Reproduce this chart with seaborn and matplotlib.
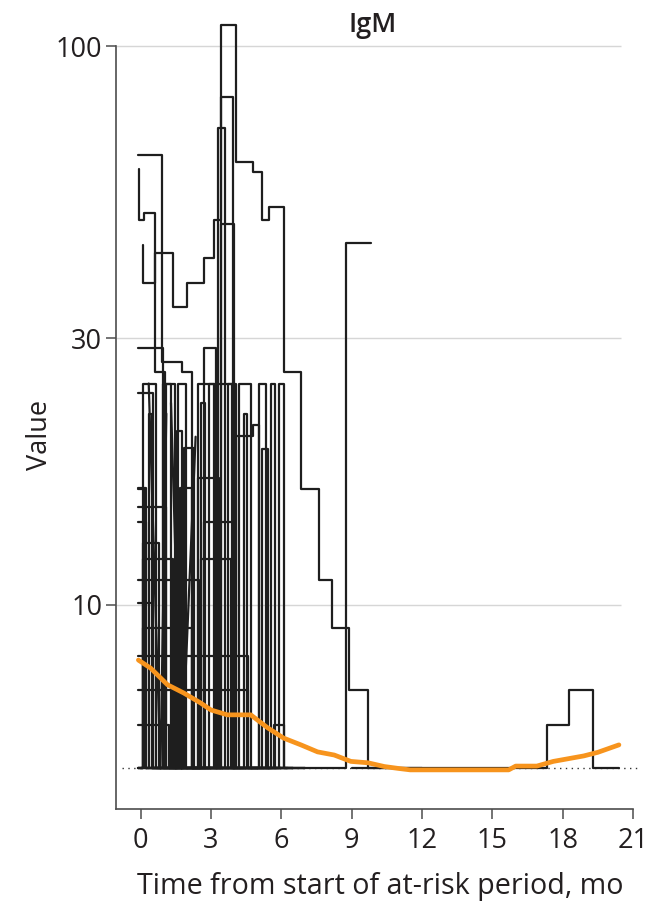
import matplotlib
matplotlib.use("Agg")
import matplotlib.pyplot as plt
from matplotlib.ticker import NullLocator, FixedLocator, FixedFormatter
import pandas as pd
import seaborn as sns

# ---------------- data ----------------
FLOOR = 5.1  # lower limit value shown by the dotted reference line

# individual trajectories: step data (value holds from t[i] to t[i+1])
p01_t = [0.1, 0.1, 0.6, 1.37, 1.97, 2.69, 3.13, 3.45, 4.06, 4.8, 5.2, 5.5, 6.1, 6.84, 7.6, 8.15, 8.9, 9.7, 12.0]
p01_v = [44.1, 37.7, 42.6, 34.1, 37.7, 41.8, 48.8, 109, 62, 59.5, 48.8, 51.5, 26.1, 16.1, 11.1, 9.1, 7.05, FLOOR, FLOOR]
p02_t = [-0.1, 0.93, 1.78, 2.2, 4.5]
p02_v = [63.8, 27.2, 26.1, FLOOR, FLOOR]
p03_t = [-0.05, -0.05, 0.13, 0.6, 1.05, 3.0]
p03_v = [60.3, 48.8, 50.3, 26.1, FLOOR, FLOOR]
p04_t = [2.0, 3.45, 3.93, 6.0]
p04_v = [FLOOR, 81, FLOOR, FLOOR]
p05_t = [1.5, 3.3, 3.6, 5.5]
p05_v = [FLOOR, 71.3, FLOOR, FLOOR]
p06_t = [2.5, 3.45, 4.0, 5.8]
p06_v = [FLOOR, 48.0, FLOOR, FLOOR]
p07_t = [4.0, 8.76, 9.83]
p07_v = [FLOOR, 44.4, 44.4]
p08_t = [9.0, 17.35, 18.25, 19.3, 20.4]
p08_v = [FLOOR, 6.1, 7.05, FLOOR, FLOOR]
p09_t = [-0.1, 0.1, 0.64, 0.94, 1.28, 1.62, 1.92, 2.44, 4.06, 4.18, 4.7, 5.04, 5.34, 5.9, 6.1, 7.0]
p09_v = [FLOOR, 24.9, FLOOR, 24.9, FLOOR, 24.9, FLOOR, 24.9, FLOOR, 24.9, FLOOR, 24.9, FLOOR, 24.9, FLOOR, FLOOR]
p10_t = [-0.1, 0.55, 2.0]
p10_v = [23.9, FLOOR, FLOOR]
p11_t = [1.0, 4.06, 4.8, 5.04, 6.2]
p11_v = [FLOOR, 20.1, 21.0, FLOOR, FLOOR]
p12_t = [0.5, 2.44, 3.33, 5.0]
p12_v = [FLOOR, 16.9, FLOOR, FLOOR]
p13_t = [0.3, 1.84, 2.26, 4.0]
p13_v = [FLOOR, 19.1, FLOOR, FLOOR]
p14_t = [-0.1, 0.25, 1.7, 2.2, 3.5]
p14_v = [16.2, FLOOR, 16.2, FLOOR, FLOOR]
p15_t = [-0.1, 1.07, 3.0]
p15_v = [15.0, FLOOR, FLOOR]
p16_t = [-0.1, 0.25, 2.69, 3.97, 5.5]
p16_v = [14.1, FLOOR, 14.1, FLOOR, FLOOR]
p17_t = [-0.1, 0.1, 0.77, 2.5]
p17_v = [FLOOR, 12.9, FLOOR, FLOOR]
p18_t = [-0.1, 0.1, 1.37, 2.56, 3.85, 5.0]
p18_v = [FLOOR, 12.1, FLOOR, 12.1, FLOOR, FLOOR]
p19_t = [-0.1, 2.48, 4.0]
p19_v = [11.1, FLOOR, FLOOR]
p20_t = [-0.1, 0.55, 1.5]
p20_v = [10.1, FLOOR, FLOOR]
p21_t = [-0.1, 0.1, 2.2, 3.5]
p21_v = [FLOOR, 9.1, FLOOR, FLOOR]
p22_t = [-0.1, 4.6, 6.0]
p22_v = [8.1, FLOOR, FLOOR]
p23_t = [-0.1, 4.6, 6.5]
p23_v = [7.05, FLOOR, FLOOR]
p24_t = [-0.1, 1.2, 5.7, 6.1, 7.0]
p24_v = [6.1, FLOOR, 6.1, FLOOR, FLOOR]
p25_t = [-0.1, 0.2, 2.0]
p25_v = [16.1, FLOOR, FLOOR]
p26_t = [-0.1, 0.94, 2.69, 3.2, 4.5]
p26_v = [28.8, FLOOR, 28.8, FLOOR, FLOOR]
p27_t = [0.0, 1.1, 1.45, 2.9, 3.15, 4.0]
p27_v = [FLOOR, 24.9, FLOOR, 24.9, FLOOR, FLOOR]
p28_t = [0.0, 0.35, 0.5, 1.55, 1.75, 3.0]
p28_v = [FLOOR, 22.0, FLOOR, 20.5, FLOOR, FLOOR]
p29_t = [3.0, 5.2, 5.45, 6.5]
p29_v = [FLOOR, 19.0, FLOOR, FLOOR]
p30_t = [2.0, 2.6, 2.75, 4.4, 4.55, 5.6]
p30_v = [FLOOR, 23.0, FLOOR, 22.0, FLOOR, FLOOR]
p31_t = [3.5, 3.75, 3.9, 5.55, 5.75, 6.3]
p31_v = [FLOOR, 24.9, FLOOR, 24.9, FLOOR, FLOOR]

# trajectories joined by straight (sloped) segments
d01_t = [0.35, 0.85, 1.1]
d01_v = [24.9, FLOOR, 22.0]
d02_t = [1.3, 1.75, 2.35]
d02_v = [23.0, FLOOR, 20.0]

# smoothed mean curve (orange)
mean_t = [-0.09, 0.43, 1.15, 1.84, 2.56, 3.0, 3.7, 4.7, 5.42, 6.1, 6.84, 7.55, 8.26, 8.97, 9.7,
          10.4, 11.0, 11.5, 13.0, 15.7, 16.0, 16.9, 17.6, 18.9, 19.5, 20.4]
mean_v = [7.97, 7.71, 7.2, 6.96, 6.68, 6.49, 6.36, 6.36, 6.03, 5.78, 5.62, 5.46, 5.39, 5.25, 5.22,
          5.14, 5.1, 5.07, 5.07, 5.07, 5.15, 5.15, 5.25, 5.37, 5.45, 5.62]

x_ticks = [0, 3, 6, 9, 12, 15, 18, 21]
y_ticks = [10, 30, 100]
y_tick_labels = ["10", "30", "100"]

# ---------------- assemble ----------------
step_series = {
    "P01": (p01_t, p01_v), "P02": (p02_t, p02_v), "P03": (p03_t, p03_v), "P04": (p04_t, p04_v),
    "P05": (p05_t, p05_v), "P06": (p06_t, p06_v), "P07": (p07_t, p07_v), "P08": (p08_t, p08_v),
    "P09": (p09_t, p09_v), "P10": (p10_t, p10_v), "P11": (p11_t, p11_v), "P12": (p12_t, p12_v),
    "P13": (p13_t, p13_v), "P14": (p14_t, p14_v), "P15": (p15_t, p15_v), "P16": (p16_t, p16_v),
    "P17": (p17_t, p17_v), "P18": (p18_t, p18_v), "P19": (p19_t, p19_v), "P20": (p20_t, p20_v),
    "P21": (p21_t, p21_v), "P22": (p22_t, p22_v), "P23": (p23_t, p23_v), "P24": (p24_t, p24_v),
    "P25": (p25_t, p25_v), "P26": (p26_t, p26_v), "P27": (p27_t, p27_v), "P28": (p28_t, p28_v),
    "P29": (p29_t, p29_v), "P30": (p30_t, p30_v), "P31": (p31_t, p31_v),
}
slope_series = {"D01": (d01_t, d01_v), "D02": (d02_t, d02_v)}


def to_frame(d):
    rows = []
    for pid, (ts, vs) in d.items():
        for t, v in zip(ts, vs):
            rows.append((pid, t, v))
    return pd.DataFrame(rows, columns=["pid", "t", "v"])


df_step = to_frame(step_series)
df_slope = to_frame(slope_series)
mean_df = pd.DataFrame({"t": mean_t, "v": mean_v})

# ---------------- style ----------------
sns.set_theme(style="white")
plt.rcParams["font.family"] = ["Open Sans", "DejaVu Sans"]
TXT = "#231f20"
SPINE = "#4d4d4d"
FS = 19.5
LINE = "#1e1e1e"

fig = plt.figure(figsize=(6.66, 9.13), dpi=100)
W, H = 666, 913
ax_l, ax_r, ax_b, ax_t = 116, 633, 809.3, 10
ax = fig.add_axes([ax_l / W, 1 - ax_b / H, (ax_r - ax_l) / W, (ax_b - ax_t) / H])
ax.set_yscale("log")

XMIN, XMAX = -1.045, 21.0
YMIN, YMAX = 4.31, 116.0

# grid lines (only across data area)
ax.hlines(y_ticks, XMIN, 20.5, colors="#d6d6d6", lw=1.0, zorder=0)
# dotted floor reference
ax.plot([-0.78, 21.2], [FLOOR, FLOOR], ls=(0, (1, 3.2)), color="#333333", lw=1.0,
        clip_on=False, zorder=1)

sns.lineplot(data=df_step, x="t", y="v", units="pid", estimator=None, sort=False,
             color=LINE, lw=1.6, drawstyle="steps-post", legend=False, ax=ax, zorder=2)
sns.lineplot(data=df_slope, x="t", y="v", units="pid", estimator=None, sort=False,
             color=LINE, lw=1.6, legend=False, ax=ax, zorder=2)
sns.lineplot(data=mean_df, x="t", y="v", estimator=None, sort=False,
             color="#F7941D", lw=3.4, legend=False, ax=ax, zorder=3)

ax.set_xlim(XMIN, XMAX)
ax.set_ylim(YMIN, YMAX)
ax.set_xticks(x_ticks)
ax.yaxis.set_major_locator(FixedLocator(y_ticks))
ax.yaxis.set_major_formatter(FixedFormatter(y_tick_labels))
ax.yaxis.set_minor_locator(NullLocator())
ax.xaxis.set_minor_locator(NullLocator())

for s in ["top", "right"]:
    ax.spines[s].set_visible(False)
for s in ["left", "bottom"]:
    ax.spines[s].set_color(SPINE)
    ax.spines[s].set_linewidth(1.2)
ax.spines["left"].set_bounds(YMIN, 100)

ax.tick_params(axis="both", which="major", direction="out", length=7, width=1.1,
               color=SPINE, labelsize=FS, labelcolor=TXT, left=True, bottom=True)
ax.tick_params(axis="x", pad=6)
ax.tick_params(axis="y", pad=3)

ax.set_xlabel("Time from start of at-risk period, mo", fontsize=20.6, color=TXT)
ax.set_ylabel("Value", fontsize=FS, color=TXT)
ax.xaxis.set_label_coords((380 - ax_l) / (ax_r - ax_l), (ax_b - 872) / (ax_b - ax_t))
ax.yaxis.set_label_coords((54 - ax_l) / (ax_r - ax_l), (ax_b - 435) / (ax_b - ax_t))

ax.text((373 - ax_l) / (ax_r - ax_l), (ax_b - 25) / (ax_b - ax_t), "IgM", transform=ax.transAxes,
        ha="center", va="center", fontsize=FS, color=TXT, fontweight="semibold")

fig.savefig("out.png", dpi=100, facecolor="white")
